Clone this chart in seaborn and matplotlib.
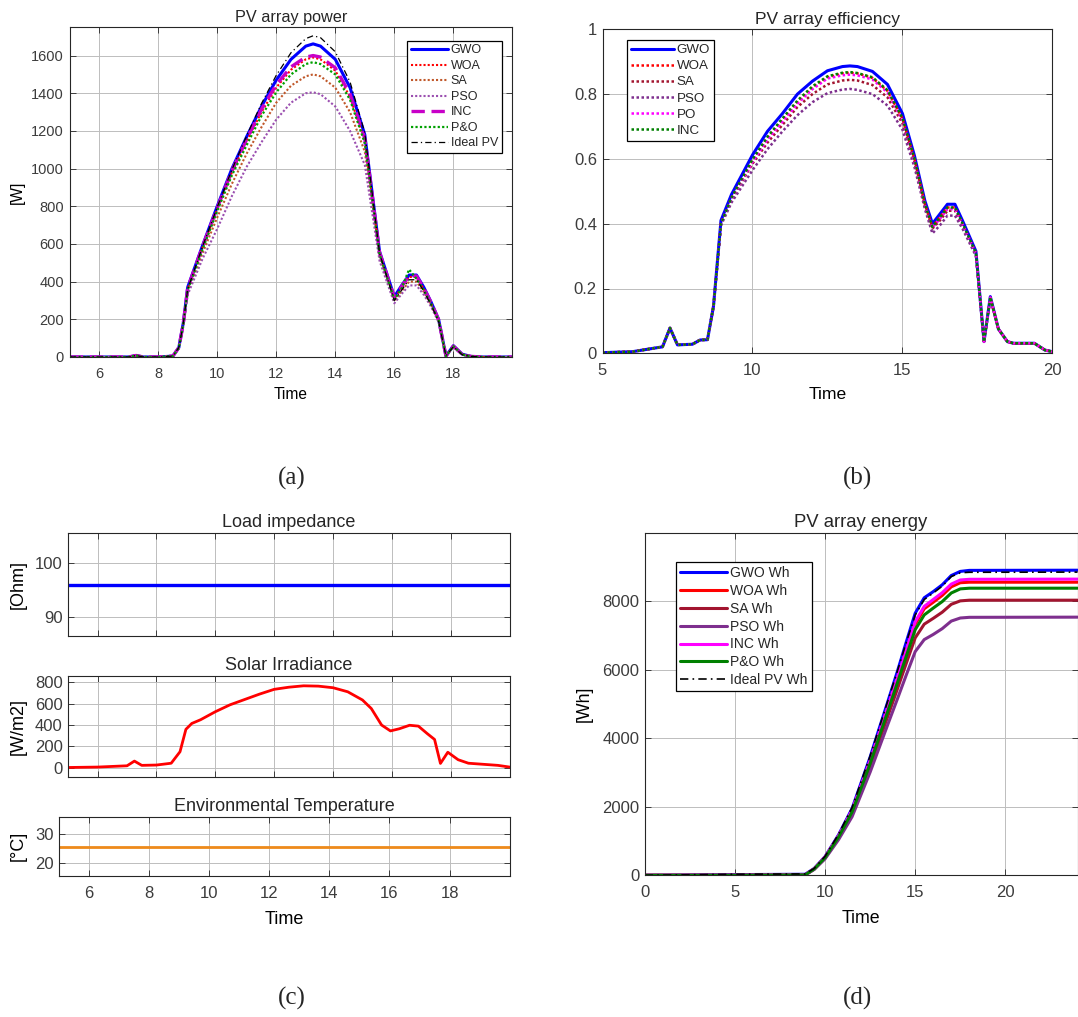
import numpy as np
import pandas as pd
import matplotlib
matplotlib.use("Agg")
import matplotlib.pyplot as plt
import seaborn as sns

sns.set_theme(style="ticks")
plt.rcParams['font.family'] = ['Liberation Sans', 'DejaVu Sans']

# ---- (a) PV array power [W] ----
t_pow = [5, 6, 7, 7.25, 7.5, 8, 8.5, 8.7, 8.85, 9, 9.5, 10, 10.5, 11, 11.5, 12, 12.5, 13, 13.25, 13.5,
         14, 14.5, 15, 15.5, 16, 16.25, 16.5, 16.75, 17, 17.25, 17.5, 17.75, 18, 18.3, 18.6, 19, 19.5, 20]
pow_gwo = [0, 0, 0, 8, 0, 0, 5, 50, 180, 370, 590, 800, 1000, 1170, 1330, 1470, 1580, 1650, 1662, 1650,
           1580, 1430, 1180, 560, 320, 380, 435, 435, 370, 290, 200, 5, 60, 15, 3, 0, 0, 0]
pow_woa = [0, 0, 0, 8, 0, 0, 5, 48, 175, 360, 580, 785, 980, 1145, 1300, 1430, 1525, 1580, 1590, 1580,
           1520, 1380, 1145, 550, 310, 370, 425, 425, 360, 285, 195, 5, 58, 14, 3, 0, 0, 0]
pow_sa = [0, 0, 0, 8, 0, 0, 5, 46, 165, 345, 550, 740, 920, 1080, 1220, 1350, 1440, 1490, 1500, 1490,
          1430, 1300, 1090, 530, 295, 350, 400, 400, 345, 275, 190, 5, 55, 13, 3, 0, 0, 0]
pow_pso = [0, 0, 0, 8, 0, 0, 5, 44, 160, 330, 520, 680, 855, 1010, 1140, 1260, 1350, 1400, 1405, 1395,
           1330, 1200, 1020, 510, 285, 335, 380, 380, 330, 265, 185, 5, 52, 12, 3, 0, 0, 0]
pow_inc = [0, 0, 0, 8, 0, 0, 5, 50, 175, 365, 585, 790, 990, 1155, 1315, 1445, 1540, 1592, 1600, 1592,
           1535, 1395, 1160, 555, 315, 375, 430, 430, 365, 288, 198, 5, 58, 14, 3, 0, 0, 0]
pow_po = [0, 0, 0, 8, 0, 0, 5, 48, 172, 355, 570, 775, 965, 1125, 1280, 1405, 1500, 1555, 1565, 1555,
          1500, 1365, 1135, 545, 305, 365, 465, 415, 355, 280, 195, 5, 57, 13, 3, 0, 0, 0]
pow_ideal = [0, 0, 0, 8, 0, 0, 5, 50, 175, 360, 585, 795, 995, 1175, 1345, 1495, 1615, 1690, 1705, 1695,
             1620, 1460, 1190, 550, 300, 355, 410, 410, 350, 275, 190, 5, 55, 12, 3, 0, 0, 0]

# ---- (b) PV array efficiency ----
t_eff = [5, 6, 7, 7.25, 7.5, 8, 8.25, 8.5, 8.7, 8.95, 9.3, 10, 10.5, 11, 11.5, 12, 12.5, 13, 13.25, 13.5,
         14, 14.5, 15, 15.4, 15.75, 16, 16.25, 16.5, 16.75, 17, 17.45, 17.72, 17.93, 18.2, 18.5, 18.7, 19.4, 19.75, 20]
eff_gwo = [0.002, 0.005, 0.02, 0.078, 0.026, 0.028, 0.041, 0.042, 0.145, 0.41, 0.49, 0.612, 0.685, 0.74, 0.80,
           0.84, 0.872, 0.885, 0.887, 0.885, 0.87, 0.83, 0.74, 0.61, 0.47, 0.40, 0.43, 0.46, 0.46, 0.41,
           0.315, 0.036, 0.175, 0.075, 0.036, 0.031, 0.031, 0.01, 0.005]
eff_woa = [0.002, 0.005, 0.02, 0.078, 0.026, 0.028, 0.041, 0.042, 0.145, 0.40, 0.48, 0.595, 0.665, 0.72, 0.775,
           0.82, 0.852, 0.864, 0.866, 0.864, 0.85, 0.81, 0.725, 0.60, 0.46, 0.39, 0.42, 0.45, 0.45, 0.40,
           0.31, 0.036, 0.172, 0.075, 0.036, 0.031, 0.031, 0.01, 0.005]
eff_sa = [0.002, 0.005, 0.02, 0.078, 0.026, 0.028, 0.041, 0.042, 0.145, 0.40, 0.475, 0.585, 0.65, 0.705, 0.76,
          0.80, 0.83, 0.842, 0.844, 0.842, 0.828, 0.79, 0.71, 0.59, 0.455, 0.385, 0.41, 0.44, 0.44, 0.395,
          0.305, 0.036, 0.17, 0.075, 0.036, 0.031, 0.031, 0.01, 0.005]
eff_pso = [0.002, 0.005, 0.02, 0.078, 0.026, 0.028, 0.041, 0.042, 0.14, 0.395, 0.465, 0.565, 0.63, 0.685, 0.735,
           0.775, 0.803, 0.814, 0.816, 0.813, 0.80, 0.765, 0.69, 0.575, 0.445, 0.37, 0.395, 0.425, 0.425, 0.385,
           0.30, 0.036, 0.168, 0.075, 0.036, 0.031, 0.031, 0.01, 0.005]
eff_po = [0.002, 0.005, 0.02, 0.078, 0.026, 0.028, 0.041, 0.042, 0.145, 0.40, 0.478, 0.59, 0.66, 0.715, 0.77,
          0.815, 0.848, 0.858, 0.86, 0.858, 0.845, 0.805, 0.72, 0.595, 0.458, 0.388, 0.415, 0.445, 0.445, 0.40,
          0.308, 0.036, 0.172, 0.075, 0.036, 0.031, 0.031, 0.01, 0.005]
eff_inc = [0.002, 0.005, 0.02, 0.078, 0.026, 0.028, 0.041, 0.042, 0.145, 0.40, 0.48, 0.598, 0.668, 0.725, 0.78,
           0.824, 0.855, 0.866, 0.868, 0.865, 0.852, 0.812, 0.726, 0.60, 0.46, 0.39, 0.42, 0.45, 0.45, 0.402,
           0.31, 0.036, 0.173, 0.075, 0.036, 0.031, 0.031, 0.01, 0.005]

# ---- (c) operating conditions ----
t_const = [5, 20]
load_ohm = [96, 96]
temp_c = [25.6, 25.6]
t_irr = [5, 6, 7, 7.25, 7.5, 8, 8.5, 8.8, 9.0, 9.2, 9.5, 10, 10.5, 11, 11.5, 12, 12.5, 13, 13.5, 14,
         14.5, 15, 15.3, 15.65, 15.95, 16.25, 16.6, 16.9, 17.2, 17.45, 17.65, 17.9, 18.25, 18.6, 19.2, 19.6, 20]
irr = [2, 6, 18, 62, 22, 25, 42, 150, 360, 415, 450, 525, 590, 640, 690, 735, 755, 768, 765, 750,
       712, 635, 555, 400, 345, 365, 398, 390, 320, 265, 40, 145, 75, 42, 30, 22, 6]

# ---- (d) PV array energy [Wh] ----
t_en = [0, 5, 8.9, 9.4, 10, 10.75, 11.5, 12, 12.5, 13, 13.5, 14, 14.5, 15, 15.5, 16, 16.5, 17, 17.5, 18, 24]
en_gwo = [0, 20, 30, 200, 545, 1180, 1950, 2700, 3450, 4280, 5100, 5930, 6800, 7650, 8100, 8280, 8480, 8750, 8870, 8900, 8905]
en_woa = [0, 0, 10, 190, 525, 1140, 1880, 2600, 3320, 4110, 4910, 5710, 6520, 7330, 7780, 7970, 8170, 8420, 8540, 8555, 8555]
en_sa = [0, 0, 10, 180, 500, 1090, 1800, 2480, 3170, 3920, 4670, 5420, 6180, 6930, 7330, 7500, 7680, 7910, 8010, 8030, 8030]
en_pso = [0, 0, 10, 170, 480, 1040, 1710, 2360, 3010, 3720, 4430, 5130, 5840, 6530, 6880, 7030, 7200, 7420, 7510, 7530, 7535]
en_inc = [0, 0, 10, 190, 530, 1150, 1900, 2620, 3350, 4150, 4950, 5760, 6580, 7400, 7850, 8050, 8250, 8500, 8620, 8640, 8645]
en_po = [0, 0, 10, 185, 515, 1120, 1850, 2550, 3260, 4040, 4820, 5600, 6390, 7170, 7600, 7800, 7990, 8240, 8360, 8380, 8380]
en_ideal = [0, 30, 40, 200, 550, 1200, 1980, 2730, 3480, 4300, 5120, 5940, 6790, 7600, 8050, 8240, 8440, 8720, 8830, 8845, 8850]

W, H = 1078, 1017
fig = plt.figure(figsize=(W / 100, H / 100), dpi=100)
TXT = '#262626'
DOT = (0, (1, 1))
DASHDOT = (0, (5, 2.5, 1, 2.5))


def add_axes(left, right, top, bottom):
    return fig.add_axes([left / W, 1 - bottom / H, (right - left) / W, (bottom - top) / H])


def style(ax, tick_size):
    for s in ax.spines.values():
        s.set_color(TXT)
        s.set_linewidth(0.8)
    ax.tick_params(direction='in', top=True, right=True, length=4, width=0.6, color=TXT,
                   labelsize=tick_size, labelcolor='#3c3c3c')
    ax.tick_params(axis='x', pad=7)
    ax.tick_params(axis='y', pad=4)
    ax.grid(True, color='#bdbdbd', linewidth=0.7)
    ax.set_axisbelow(True)


def line(ax, x, y, color, ls='-', lw=1.6, label=None):
    sns.lineplot(x=x, y=y, ax=ax, color=color, linestyle=ls, linewidth=lw, label=label,
                 estimator=None, sort=False)


def legend(ax, anchor, size, hlen):
    leg = ax.legend(loc='upper left', bbox_to_anchor=anchor, fontsize=size, handlelength=hlen,
                    labelspacing=0.28, borderpad=0.3, handletextpad=0.2, borderaxespad=0,
                    fancybox=False, framealpha=1, edgecolor='black')
    leg.get_frame().set_linewidth(0.9)


def labels(ax, xl, yl, xpos, ypos, size):
    if xl:
        ax.set_xlabel(xl, fontsize=size, color='black')
        ax.xaxis.set_label_coords(0.5, xpos)
        ax.xaxis.label.set_va('center')
    else:
        ax.set_xlabel('')
    if yl:
        ax.set_ylabel(yl, fontsize=size, color='black')
        ax.yaxis.set_label_coords(ypos, 0.5)
        ax.yaxis.label.set_va('center')
    else:
        ax.set_ylabel('')


# (a)
ax = add_axes(69.6, 512.4, 27.3, 357)
line(ax, t_pow, pow_gwo, '#0000ff', '-', 2.2, 'GWO')
line(ax, t_pow, pow_woa, '#ff0000', DOT, 1.5, 'WOA')
line(ax, t_pow, pow_sa, '#c0582a', DOT, 1.5, 'SA')
line(ax, t_pow, pow_pso, '#9b4fb0', DOT, 1.5, 'PSO')
line(ax, t_pow, pow_inc, '#c800c8', (0, (4, 2)), 2.4, 'INC')
line(ax, t_pow, pow_po, '#00a000', DOT, 1.6, 'P&O')
line(ax, t_pow, pow_ideal, 'black', DASHDOT, 0.9, 'Ideal PV')
ax.set_xlim(5, 20)
ax.set_ylim(0, 1750)
ax.set_xticks(range(6, 20, 2))
ax.set_yticks(range(0, 1601, 200))
style(ax, 10.5)
ax.set_title('PV array power', fontsize=11.7, pad=4)
labels(ax, 'Time', '[W]', -0.115, -0.119, 11.2)
legend(ax, ((407 - 69.6) / 442.8, 1 - (40.7 - 27.3) / 329.7), 9, 3.0)

# (b)
ax = add_axes(602.5, 1052.4, 29.3, 353.3)
line(ax, t_eff, eff_gwo, '#0000ff', '-', 2.2, 'GWO')
line(ax, t_eff, eff_woa, '#ff0000', DOT, 1.8, 'WOA')
line(ax, t_eff, eff_sa, '#a2142f', DOT, 1.8, 'SA')
line(ax, t_eff, eff_pso, '#7e2f8e', DOT, 1.8, 'PSO')
line(ax, t_eff, eff_po, '#ff00ff', DOT, 1.8, 'PO')
line(ax, t_eff, eff_inc, '#008000', DOT, 1.8, 'INC')
ax.set_xlim(5, 20)
ax.set_ylim(0, 1)
ax.set_xticks([5, 10, 15, 20])
ax.set_yticks([0, 0.2, 0.4, 0.6, 0.8, 1])
ax.set_yticklabels(['0', '0.2', '0.4', '0.6', '0.8', '1'])
style(ax, 12)
ax.set_title('PV array efficiency', fontsize=12.5, pad=4)
labels(ax, 'Time', None, -0.127, 0, 12.6)
legend(ax, ((627.3 - 602.5) / 449.9, 1 - (40 - 29.3) / 324), 9.6, 3.2)

# (c) three stacked panels
ax1 = add_axes(68.2, 509.6, 532.7, 636)
line(ax1, t_const, load_ohm, '#0000ff', '-', 2.4)
ax1.set_ylim(86.4, 105.7)
ax1.set_yticks([90, 100])
ax1.set_title('Load impedance', fontsize=13, pad=4)

ax2 = add_axes(68.2, 509.6, 676, 777.3)
line(ax2, t_irr, irr, '#ff0000', '-', 2.0)
ax2.set_ylim(-90, 860)
ax2.set_yticks(range(0, 801, 200))
ax2.set_title('Solar Irradiance', fontsize=13, pad=4)

ax3 = add_axes(59.2, 509.6, 816.7, 876)
line(ax3, t_const, temp_c, '#ee8a1a', '-', 2.0)
ax3.set_ylim(15.4, 36)
ax3.set_yticks([20, 30])
ax3.set_title('Environmental Temperature', fontsize=13, pad=4)

for a in (ax1, ax2, ax3):
    a.set_xlim(5, 20)
    a.set_xticks(range(6, 20, 2))
    style(a, 12)
ax1.set_xticklabels([])
ax2.set_xticklabels([])
labels(ax1, None, '[Ohm]', 0, (18.2 - 68.2) / 441.4, 13)
labels(ax2, None, '[W/m2]', 0, (18.2 - 68.2) / 441.4, 13)
labels(ax3, 'Time', '[°C]', -(919 - 876) / 59.3, (18.2 - 59.2) / 450.4, 13)

# (d)
ax = add_axes(644.7, 1077.5, 532.7, 875.3)
line(ax, t_en, en_gwo, '#0000ff', '-', 2.2, 'GWO Wh')
line(ax, t_en, en_woa, '#ff0000', '-', 2.2, 'WOA Wh')
line(ax, t_en, en_sa, '#a2142f', '-', 2.2, 'SA Wh')
line(ax, t_en, en_pso, '#7e2f8e', '-', 2.2, 'PSO Wh')
line(ax, t_en, en_inc, '#ff00ff', '-', 2.2, 'INC Wh')
line(ax, t_en, en_po, '#008000', '-', 2.2, 'P&O Wh')
line(ax, t_en, en_ideal, 'black', DASHDOT, 1.2, 'Ideal PV Wh')
ax.set_xlim(0, 24)
ax.set_ylim(0, 10000)
ax.set_xticks([0, 5, 10, 15, 20])
ax.set_yticks(range(0, 8001, 2000))
style(ax, 12)
ax.set_title('PV array energy', fontsize=13.3, pad=4)
labels(ax, 'Time', '[Wh]', -0.125, -0.139, 12.8)
legend(ax, ((676 - 644.7) / 432.8, 1 - (561.7 - 532.7) / 342.6), 10, 3.4)

# sub-figure captions
for txt, x, y in [('(a)', 292, 478), ('(b)', 858, 478), ('(c)', 292, 998), ('(d)', 858, 998)]:
    fig.text(x / W, 1 - y / H, txt, ha='center', va='center', fontsize=18,
             family=['Liberation Serif', 'DejaVu Serif'])

fig.savefig('out.png', dpi=100)
